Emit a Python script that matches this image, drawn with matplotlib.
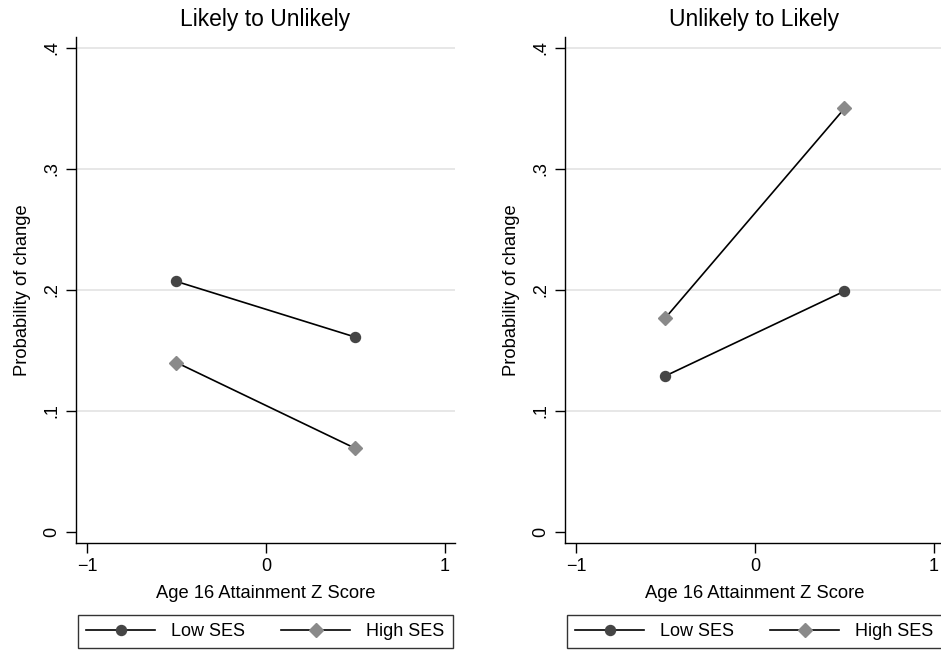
import matplotlib
matplotlib.use("Agg")
import matplotlib.pyplot as plt
from matplotlib.lines import Line2D

plt.rcParams['font.family'] = ['Liberation Sans', 'DejaVu Sans']

x = [-0.5, 0.5]
titles = ["Likely to Unlikely", "Unlikely to Likely"]
low_ses = [[0.207, 0.161], [0.129, 0.199]]
high_ses = [[0.140, 0.069], [0.177, 0.350]]
yticks = [0, 0.1, 0.2, 0.3, 0.4]
ytick_labels = ["0", ".1", ".2", ".3", ".4"]
xticks = [-1, 0, 1]
xtick_labels = ["\u22121", "0", "1"]

fig = plt.figure(figsize=(9.41, 6.5), dpi=100)
lefts = [76 / 941, 565 / 941]
width = (455 - 76) / 941
bottom = 1 - 543 / 650
height = (543 - 37) / 650

low_c = '#454545'
high_c = '#8a8a8a'

for i in range(2):
    ax = fig.add_axes([lefts[i], bottom, width, height])
    ax.set_xlim(-1.0615, 1.056)
    ax.set_ylim(-0.0091, 0.409)
    for yv in yticks[1:]:
        ax.axhline(yv, color='#e3e3e3', lw=1.2, zorder=0)
    ax.plot(x, low_ses[i], color='black', lw=1.2, marker='o', ms=7.2,
            mfc=low_c, mec=low_c, zorder=3)
    ax.plot(x, high_ses[i], color='black', lw=1.2, marker='D', ms=7,
            mfc=high_c, mec=high_c, zorder=3)
    for s in ['top', 'right']:
        ax.spines[s].set_visible(False)
    for s in ['left', 'bottom']:
        ax.spines[s].set_linewidth(1.0)
    ax.set_yticks(yticks)
    ax.set_yticklabels(ytick_labels, rotation=90, va='center')
    ax.set_xticks(xticks)
    ax.set_xticklabels(xtick_labels)
    ax.tick_params(axis='both', direction='out', length=7, width=1.0,
                   labelsize=13, pad=4)
    ax.set_title(titles[i], fontsize=16.5, pad=8)
    ax.set_xlabel("Age 16 Attainment Z Score", fontsize=13.2, labelpad=7)
    ax.set_ylabel("Probability of change", fontsize=13.2, labelpad=9)

    handles = [
        Line2D([], [], color='black', lw=1.2, marker='o', ms=7.2,
               mfc=low_c, mec=low_c),
        Line2D([], [], color='black', lw=1.2, marker='D', ms=7,
               mfc=high_c, mec=high_c),
    ]
    cx = lefts[i] + width / 2
    leg = fig.legend(handles, ["Low SES", "High SES"], ncol=2,
                     loc='upper center', bbox_to_anchor=(cx, 1 - 615 / 650),
                     frameon=True, fancybox=False, fontsize=13,
                     handlelength=3.8, numpoints=1, columnspacing=2.0,
                     borderpad=0.45, handletextpad=0.9, borderaxespad=0)
    leg.get_frame().set_edgecolor('black')
    leg.get_frame().set_linewidth(1.0)

fig.savefig("out.png", dpi=100)
